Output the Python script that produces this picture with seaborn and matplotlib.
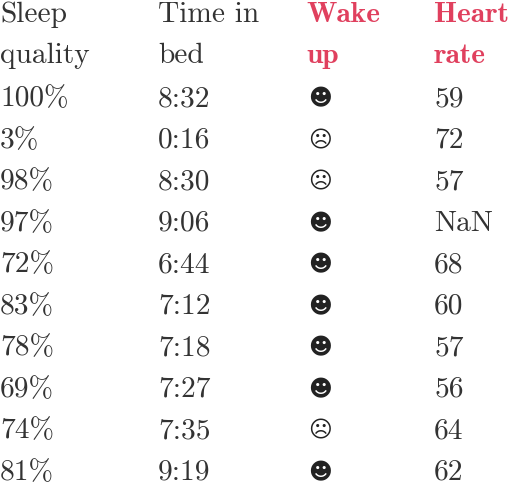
import matplotlib
matplotlib.use("Agg")
import matplotlib.pyplot as plt
import seaborn as sns

sns.set_style("white")
plt.rcParams['axes.unicode_minus'] = False

headers = [["Sleep", "quality"], ["Time in", "bed"], ["Wake", "up"], ["Heart", "rate"]]
header_colors = ["#333333", "#333333", "#e0405e", "#e0405e"]
sleep_quality = ["100%", "3%", "98%", "97%", "72%", "83%", "78%", "69%", "74%", "81%"]
time_in_bed = ["8:32", "0:16", "8:30", "9:06", "6:44", "7:12", "7:18", "7:27", "7:35", "9:19"]
wake_up = ["☻", "☹", "☹", "☻", "☻", "☻", "☻", "☻", "☹", "☻"]
heart_rate = ["59", "72", "57", "NaN", "68", "60", "57", "56", "64", "62"]

W, H = 530, 487
fig = plt.figure(figsize=(W / 100, H / 100), dpi=100)
ax = fig.add_axes([0, 0, 1, 1])
ax.set_xlim(0, W)
ax.set_ylim(H, 0)
ax.axis("off")

col_x = [0, 158, 306, 434]
head_y = [15, 56]
row_y0, row_dy = 99, 41.5
fs = 21.2
fam = ["cmr10", "DejaVu Sans"]

for ci, (hdr, col) in enumerate(zip(headers, header_colors)):
    bold = ci >= 2
    for li, line in enumerate(hdr):
        ax.text(col_x[ci], head_y[li], line, fontsize=fs, color=col,
                family=["cmb10"] if bold else fam, va="center", ha="left")

columns = [sleep_quality, time_in_bed, wake_up, heart_rate]
for ci, colvals in enumerate(columns):
    for ri, v in enumerate(colvals):
        y = row_y0 + ri * row_dy
        if ci == 2:
            ax.text(col_x[ci] + 2, y, v, fontsize=16.5, color="#222222",
                    family=["DejaVu Sans"], va="center", ha="left")
        else:
            ax.text(col_x[ci], y, v, fontsize=fs, color="#333333",
                    family=fam, va="center", ha="left")

fig.savefig("out.png", dpi=100)
